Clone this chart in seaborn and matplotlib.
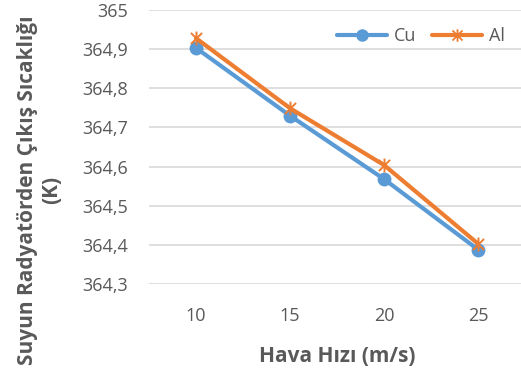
import matplotlib
matplotlib.use("Agg")
import matplotlib.pyplot as plt
import seaborn as sns
import pandas as pd
from matplotlib.ticker import FuncFormatter
from matplotlib.lines import Line2D
from matplotlib.path import Path

speeds = ["10", "15", "20", "25"]
cu_values = [364.903, 364.730, 364.568, 364.388]
al_values = [364.928, 364.749, 364.604, 364.403]
y_ticks = [364.3, 364.4, 364.5, 364.6, 364.7, 364.8, 364.9, 365.0]

df_cu = pd.DataFrame({"speed": speeds, "temp": cu_values})
df_al = pd.DataFrame({"speed": speeds, "temp": al_values})

sns.set_theme(style="white")
plt.rcParams["font.family"] = ["Open Sans", "DejaVu Sans"]

# Excel-style star marker: an X with a vertical stroke
star = Path(
    [(-1, -1), (1, 1), (-1, 1), (1, -1), (0, -1.25), (0, 1.25)],
    [Path.MOVETO, Path.LINETO, Path.MOVETO, Path.LINETO, Path.MOVETO, Path.LINETO],
)

fig = plt.figure(figsize=(5.21, 3.74), dpi=100)
ax = fig.add_axes([149 / 521, 1 - 284 / 374, (525 - 149) / 521, (284 - 10) / 374])

cu_color = "#5B9BD5"
al_color = "#ED7D31"
sns.lineplot(data=df_cu, x="speed", y="temp", color=cu_color, marker="o",
             linewidth=3, markersize=10, markeredgewidth=0, ax=ax, sort=False)
sns.lineplot(data=df_al, x="speed", y="temp", color=al_color, marker=star,
             linewidth=3, markersize=10, markeredgewidth=1.4, markeredgecolor=al_color,
             ax=ax, sort=False)

ax.set_xlim(-0.5, 3.5)
ax.set_ylim(364.3, 365.0)
ax.set_yticks(y_ticks)
ax.yaxis.set_major_formatter(FuncFormatter(
    lambda v, p: ("%g" % round(v, 1)).replace(".", ",")))
ax.grid(axis="y", color="#D9D9D9", linewidth=1.2)
ax.set_axisbelow(True)
for s in ax.spines.values():
    s.set_visible(False)
ax.tick_params(axis="both", length=0, labelsize=13, labelcolor="#595959")
ax.tick_params(axis="y", pad=15)
ax.tick_params(axis="x", pad=16.5)

ax.set_xlabel("Hava Hızı (m/s)", fontsize=15, fontweight="bold", color="#595959", labelpad=15)
ax.set_ylabel("Suyun Radyatörden Çıkış Sıcaklığı\n(K)", fontsize=15, fontweight="bold",
              color="#595959", linespacing=1.15)
ax.yaxis.set_label_coords(-0.232, 0.343)

handles = [
    Line2D([], [], color=cu_color, marker="o", linewidth=3, markersize=9, markeredgewidth=0),
    Line2D([], [], color=al_color, marker=star, linewidth=3, markersize=9,
           markeredgewidth=1.3, markeredgecolor=al_color),
]
leg = ax.legend(handles, ["Cu", "Al"], loc="center right", bbox_to_anchor=(0.965, 0.905),
                borderaxespad=0, ncol=2, frameon=False, fontsize=13, handlelength=2.77,
                columnspacing=0.83, handletextpad=0.4)
for t in leg.get_texts():
    t.set_color("#595959")

fig.savefig("out.png", dpi=100)
